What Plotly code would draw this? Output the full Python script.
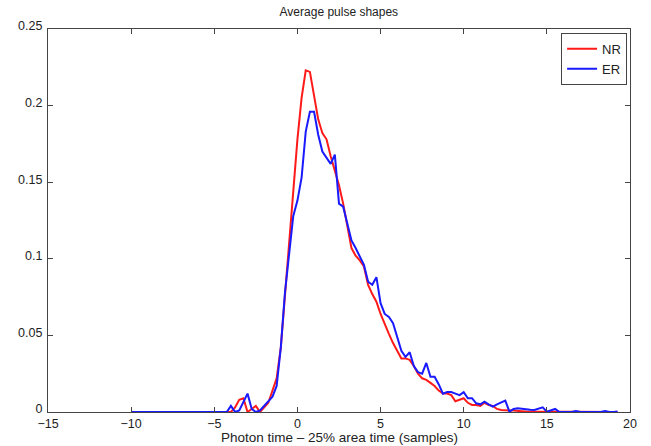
import numpy as np
import plotly.graph_objects as go

# Time axis in samples, relative to the 25% area time
t_start, t_step = -10.0, 0.25

# NR average pulse (leading zeros from -10 to -4.25)
nr_lead = [0.0] * 23
nr_body = [
    0.0, 0.0, 0.003, 0.008, 0.009, 0.0, 0.002, 0.004,          # -4.0 .. -2.25
    0.0, 0.003, 0.006, 0.014, 0.022, 0.042, 0.075, 0.108,      # -2.0 .. -0.25
    0.142, 0.178, 0.205, 0.223, 0.222, 0.207, 0.191, 0.182,    # 0.0 .. 1.75
    0.178, 0.167, 0.158, 0.148, 0.136, 0.121, 0.107, 0.102,    # 2.0 .. 3.75
    0.099, 0.095, 0.083, 0.077, 0.072, 0.064, 0.057, 0.051,    # 4.0 .. 5.75
    0.045, 0.040, 0.035, 0.035, 0.034, 0.030, 0.025, 0.022,    # 6.0 .. 7.75
    0.021, 0.019, 0.017, 0.014, 0.012, 0.012, 0.011, 0.007,    # 8.0 .. 9.75
    0.008, 0.009, 0.006, 0.0046, 0.0046, 0.004, 0.006, 0.0045, # 10.0 .. 11.75
    0.004, 0.002, 0.0013, 0.001, 0.001, 0.0009, 0.0009, 0.0005,# 12.0 .. 13.75
    0.0003, 0.0003, 0.0, 0.0002, 0.0002, 0.0003, 0.0003, 0.0002,# 14.0 .. 15.75
    0.0, 0.0, 0.0, 0.0, 0.0, 0.0, 0.0, 0.0,                    # 16.0 .. 17.75
    0.0, 0.0, 0.0, 0.0, 0.0, 0.0, 0.0,                         # 18.0 .. 19.5
]
nr_values = nr_lead + nr_body

# ER average pulse
er_lead = [0.0] * 23
er_body = [
    0.0, 0.004, 0.0, 0.001, 0.006, 0.012, 0.002, 0.0,          # -4.0 .. -2.25
    0.001, 0.004, 0.007, 0.010, 0.017, 0.042, 0.078, 0.105,    # -2.0 .. -0.25
    0.128, 0.138, 0.153, 0.183, 0.196, 0.196, 0.181, 0.170,    # 0.0 .. 1.75
    0.166, 0.162, 0.168, 0.136, 0.134, 0.122, 0.112, 0.107,    # 2.0 .. 3.75
    0.102, 0.096, 0.085, 0.083, 0.088, 0.071, 0.064, 0.062,    # 4.0 .. 5.75
    0.058, 0.049, 0.040, 0.036, 0.039, 0.030, 0.026, 0.025,    # 6.0 .. 7.75
    0.032, 0.023, 0.023, 0.018, 0.012, 0.013, 0.013, 0.012,    # 8.0 .. 9.75
    0.011, 0.013, 0.009, 0.009, 0.0057, 0.005, 0.0067, 0.005,  # 10.0 .. 11.75
    0.0035, 0.005, 0.006, 0.0074, 0.0002, 0.002, 0.0024, 0.002,# 12.0 .. 13.75
    0.0017, 0.0015, 0.0013, 0.002, 0.003, 0.0002, 0.001, 0.002,# 14.0 .. 15.75
    0.0, 0.0, 0.0, 0.0, 0.0006, 0.0, 0.0, 0.0,                 # 16.0 .. 17.75
    0.0, 0.0, 0.0, 0.0006, 0.0, 0.0, 0.0004,                   # 18.0 .. 19.5
]
er_values = er_lead + er_body

time_samples = t_start + t_step * np.arange(len(nr_values))

x_ticks = [-15, -10, -5, 0, 5, 10, 15, 20]
y_ticks = [0, 0.05, 0.1, 0.15, 0.2, 0.25]
y_tick_text = ["0", "0.05", "0.1", "0.15", "0.2", "0.25"]

font_family = "Liberation Sans, Arial, sans-serif"
axis_color = "#444444"

fig = go.Figure()
fig.add_trace(go.Scatter(x=time_samples, y=nr_values, mode="lines", name="NR",
                         line=dict(color="#ff1a1a", width=2)))
fig.add_trace(go.Scatter(x=time_samples, y=er_values, mode="lines", name="ER",
                         line=dict(color="#1a1aff", width=2)))

axis_common = dict(
    showgrid=False, zeroline=False, showline=True, linecolor=axis_color,
    linewidth=1.3, mirror="allticks", ticks="inside", ticklen=5,
    tickcolor=axis_color, tickfont=dict(family=font_family, size=12.5, color="#222222"),
)

fig.update_layout(
    width=651, height=446,
    margin=dict(l=48, r=21, t=29, b=34),
    paper_bgcolor="white", plot_bgcolor="white",
    title=dict(text="Average pulse shapes", x=0.5205, xanchor="center",
               y=1 - 12 / 446, yanchor="middle",
               font=dict(family=font_family, size=12, color="#222222")),
    xaxis=dict(range=[-15, 20], tickvals=x_ticks, ticklabelstandoff=0, **axis_common),
    yaxis=dict(range=[0, 0.25], tickvals=y_ticks, ticktext=y_tick_text,
               ticklabelstandoff=2, ticklabelshift=-3, **axis_common),
    legend=dict(x=0.995, y=0.99, xanchor="right", yanchor="top",
                bgcolor="white", bordercolor=axis_color, borderwidth=1,
                font=dict(family=font_family, size=13, color="#222222"),
                itemwidth=30, tracegroupgap=0),
    showlegend=True,
    annotations=[dict(text="Photon time \u2013 25% area time (samples)",
                      xref="paper", yref="paper", x=0.5, y=0,
                      xanchor="center", yanchor="bottom", yshift=-34,
                      showarrow=False, borderpad=0,
                      font=dict(family=font_family, size=13.5, color="#222222"))],
)

fig.write_html("out.html")
